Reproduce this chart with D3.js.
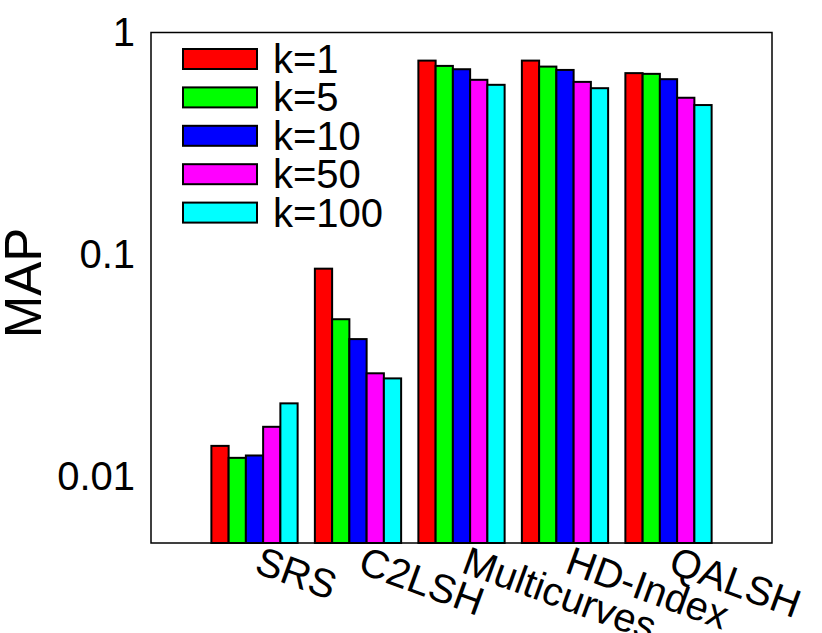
<!DOCTYPE html>
<html>
<head>
<meta charset="utf-8">
<script src="https://cdn.jsdelivr.net/npm/d3@7"></script>
<style>
html,body{margin:0;padding:0;background:#fff;}
svg{display:block;font-family:"Liberation Sans",Arial,Helvetica,sans-serif;}
</style>
</head>
<body>
<svg id="chart" width="822" height="633"></svg>
<script>
const categories = ["SRS", "C2LSH", "Multicurves", "HD-Index", "QALSH"];
const seriesNames = ["k=1", "k=5", "k=10", "k=50", "k=100"];
const k1   = [0.0137, 0.0862, 0.747, 0.747, 0.656];
const k5   = [0.0121, 0.0510, 0.707, 0.702, 0.651];
const k10  = [0.0124, 0.0415, 0.683, 0.678, 0.616];
const k50  = [0.0167, 0.0291, 0.612, 0.599, 0.508];
const k100 = [0.0213, 0.0276, 0.581, 0.561, 0.471];
const yTicks = [0.01, 0.1, 1];
const yTickLabels = ["0.01", "0.1", "1"];
const colors = ["#ff0000", "#00ff00", "#0000ff", "#ff00ff", "#00ffff"];

const series = [k1, k5, k10, k50, k100];

const svg = d3.select("#chart");
const L = 151, R = 772, T = 32.5, B = 543;

const x = d3.scaleLinear().domain([-1, 5]).range([L, R]);
const y = d3.scaleLog().domain([0.005, 1]).range([B, T]);
const bw = 1 / 6;

// bars
series.forEach((vals, si) => {
  svg.append("g").selectAll("rect")
    .data(vals)
    .join("rect")
    .attr("x", (d, ci) => x(ci + (si - 2) * bw - bw / 2))
    .attr("width", x(bw) - x(0))
    .attr("y", d => y(d))
    .attr("height", d => B - y(d))
    .attr("fill", colors[si])
    .attr("stroke", "#000")
    .attr("stroke-width", 2);
});

// frame
svg.append("rect")
  .attr("x", L).attr("y", T)
  .attr("width", R - L).attr("height", B - T)
  .attr("fill", "none").attr("stroke", "#000").attr("stroke-width", 1.5);

// y axis labels
const yAxis = d3.axisLeft(y).tickValues(yTicks)
  .tickFormat((d, i) => yTickLabels[i]).tickSize(0).tickPadding(16);
const ya = svg.append("g").attr("transform", `translate(${L},0)`).call(yAxis);
ya.select(".domain").remove();
ya.selectAll("text").attr("font-size", 40).attr("fill", "#000")
  .attr("font-family", "Liberation Sans, Arial, sans-serif");

// x axis labels
const xAxis = d3.axisBottom(x).tickValues(d3.range(categories.length))
  .tickFormat((d, i) => categories[i]).tickSize(0);
const xa = svg.append("g").attr("transform", `translate(0,${B})`).call(xAxis);
xa.select(".domain").remove();
xa.selectAll("text")
  .attr("font-size", 40).attr("fill", "#000")
  .attr("font-family", "Liberation Sans, Arial, sans-serif")
  .attr("text-anchor", "start")
  .attr("dy", null).attr("y", null)
  .attr("transform", "translate(-2,29) rotate(20)");

// y title
svg.append("text")
  .attr("transform", "translate(41,283) rotate(-90)")
  .attr("text-anchor", "middle")
  .attr("font-size", 51)
  .attr("fill", "#000")
  .text("MAP");

// legend
const lg = svg.append("g");
seriesNames.forEach((name, i) => {
  const ry = 49 + i * 38.4;
  lg.append("rect")
    .attr("x", 183).attr("y", ry)
    .attr("width", 74).attr("height", 20)
    .attr("fill", colors[i]).attr("stroke", "#000").attr("stroke-width", 2);
  lg.append("text")
    .attr("x", 273).attr("y", ry + 24)
    .attr("font-size", 40).attr("fill", "#000")
    .text(name);
});
</script>
</body>
</html>
